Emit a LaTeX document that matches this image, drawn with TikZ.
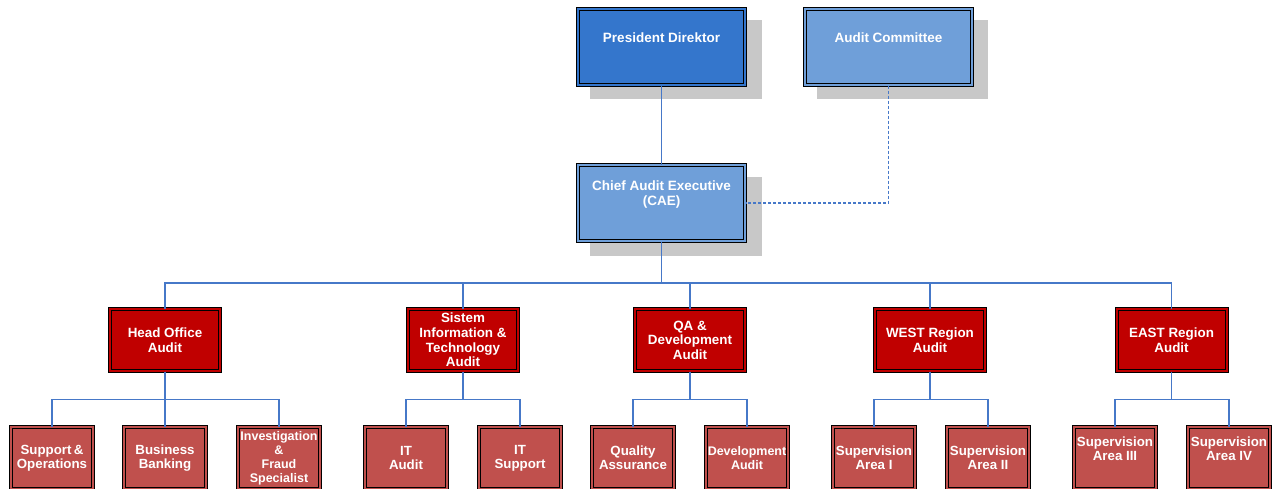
\documentclass[tikz,border=0pt]{standalone}
\usepackage{fontspec}
\setmainfont{Liberation Sans}
\definecolor{presblue}{RGB}{52,118,204}
\definecolor{liteblue}{RGB}{111,159,217}
\definecolor{deptred}{RGB}{192,0,0}
\definecolor{unitred}{RGB}{192,80,77}
\definecolor{shadowgrey}{RGB}{200,200,200}
\definecolor{linkblue}{RGB}{70,120,200}
\tikzset{
  box/.style={rectangle, draw=black, line width=1pt, double distance=2pt,
    inner sep=0pt, text=white, align=center,
    font=\fontsize{13.4}{14.6}\selectfont\bfseries},
  topbox/.style={box, minimum width=167pt, minimum height=76pt,
    font=\fontsize{13.5}{15.2}\selectfont\bfseries},
  deptbox/.style={box, fill=deptred, double=deptred,
    minimum width=110pt, minimum height=62pt},
  unitbox/.style={box, fill=unitred, double=unitred,
    minimum width=82pt, minimum height=62pt,
    font=\fontsize{13.3}{14}\selectfont\bfseries},
  conn/.style={draw=linkblue, line width=1.2pt},
  dotconn/.style={conn, dash pattern=on 3pt off 2pt}
}
\begin{document}
\begin{tikzpicture}[x=1pt, y=-1pt]
\useasboundingbox (0,0) rectangle (1274,488);

% drop shadows of the upper boxes
\fill[shadowgrey] (590,20) rectangle (762,99);
\fill[shadowgrey] (817,20) rectangle (988,99);
\fill[shadowgrey] (590,177) rectangle (762,256);

% upper boxes
\node[topbox, fill=presblue, double=presblue] (pd) at (661.5,47)
  {President Direktor\\[0pt]\strut};
\node[topbox, fill=liteblue, double=liteblue] (ac) at (888.5,47)
  {Audit Committee\\[0pt]\strut};
\node[topbox, fill=liteblue, double=liteblue] (cae) at (661.5,203)
  {Chief Audit Executive\\(CAE)\\\strut};

% departments
\node[deptbox] (ho) at (165,340) {Head Office\\Audit};
\node[deptbox] (sit) at (463,340) {Sistem\\Information \&\\Technology\\Audit};
\node[deptbox] (qa) at (690,340) {QA \&\\Development\\Audit};
\node[deptbox] (west) at (930,340) {WEST Region\\Audit};
\node[deptbox] (east) at (1171.5,340) {EAST Region\\Audit};

% units
\node[unitbox] (so) at (52,458) {Support\,\&\\Operations};
\node[unitbox] (bb) at (165,458) {Business\\Banking};
\node[unitbox, font=\fontsize{12.5}{14}\selectfont\bfseries] (ifs) at (279,458)
  {Investigation\\\&\\Fraud\\Specialist};
\node[unitbox] (ita) at (406,458) {IT\\Audit};
\node[unitbox] (its) at (520,458) {IT\\Support};
\node[unitbox] (qas) at (633,458) {Quality\\Assurance};
\node[unitbox, font=\fontsize{12.5}{14}\selectfont\bfseries] (dev) at (747,458)
  {Development\\Audit};
\node[unitbox] (s1) at (874,458) {Supervision\\Area I};
\node[unitbox] (s2) at (988,458) {Supervision\\Area II};
\node[unitbox] (s3) at (1115,458) {Supervision\\Area III\\\strut};
\node[unitbox] (s4) at (1229,458) {Supervision\\Area IV\\\strut};

% reporting lines
\draw[conn] (pd.south) -- (cae.north);
\draw[dotconn] (ac.south) |- (cae.east);

\coordinate (bus) at (661.5,283);
\draw[conn] (cae.south) -- (bus);
\foreach \d in {ho,sit,qa,west,east}
  \draw[conn] (bus) -| (\d.north);

\foreach \d/\u in {ho/so,ho/bb,ho/ifs,sit/ita,sit/its,qa/qas,qa/dev,west/s1,west/s2,east/s3,east/s4}
  \draw[conn] (\d.south) -- ++(0,28) -| (\u.north);
\end{tikzpicture}
\end{document}
